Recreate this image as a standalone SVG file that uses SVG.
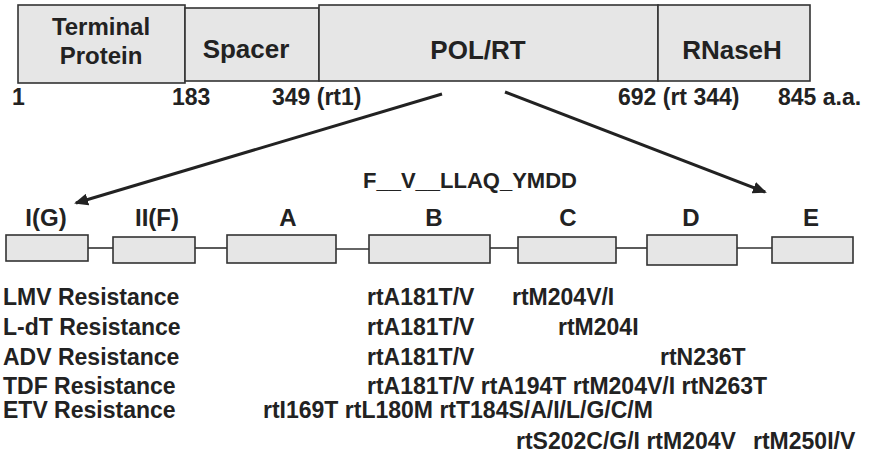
<svg xmlns="http://www.w3.org/2000/svg" width="871" height="454" viewBox="0 0 871 454">
<style>
text{font-family:"Liberation Sans",Arial,Helvetica,sans-serif;font-weight:bold;fill:#222}
.box{fill:#e6e6e6;stroke:#333;stroke-width:1.6}
.big{font-size:26px;text-anchor:middle}
.tp{font-size:24px;text-anchor:middle}
.num{font-size:23px}
.dom{font-size:24px;text-anchor:middle}
.row{font-size:23px}
.link{stroke:#333;stroke-width:1.6;fill:none}
.arrow{stroke:#222;stroke-width:3;fill:none}
</style>
<defs>
<marker id="ah" markerUnits="userSpaceOnUse" markerWidth="14" markerHeight="12" refX="12" refY="6" orient="auto">
<path d="M0,0 L14,6 L0,12 Z" fill="#222"/>
</marker>
</defs>
<rect width="871" height="454" fill="#fff"/>
<g id="terminal-protein"><rect class="box" x="18" y="5" width="167" height="78"/><text class="tp" x="101" y="35">Terminal</text><text class="tp" x="101" y="64">Protein</text></g>
<g id="spacer"><rect class="box" x="185" y="8" width="134" height="73"/><text class="big" x="246" y="58">Spacer</text></g>
<g id="polrt"><rect class="box" x="319" y="5" width="339" height="76"/><text class="big" x="478" y="59">POL/RT</text></g>
<g id="rnaseh"><rect class="box" x="658" y="5" width="152" height="76"/><text class="big" x="732" y="59">RNaseH</text></g>
<g id="positions" class="num">
<text x="12" y="105">1</text>
<text x="172" y="105">183</text>
<text x="272" y="105">349 (rt1)</text>
<text x="618" y="105">692 (rt 344)</text>
<text x="778" y="105">845 a.a.</text>
</g>
<g id="connectors">
<line class="arrow" x1="442" y1="94" x2="76" y2="203" marker-end="url(#ah)"/>
<line class="arrow" x1="505" y1="92" x2="765" y2="192" marker-end="url(#ah)"/>
<line class="link" x1="88" y1="248" x2="113" y2="248"/>
<line class="link" x1="195" y1="248" x2="227" y2="248"/>
<line class="link" x1="336" y1="249" x2="369" y2="249"/>
<line class="link" x1="490" y1="248" x2="518" y2="248"/>
<line class="link" x1="616" y1="248" x2="647" y2="248"/>
<line class="link" x1="737" y1="248" x2="772" y2="248"/>
</g>
<g id="motif"><text x="363" y="188" style="font-size:22px">F__V__LLAQ_YMDD</text></g>
<g id="domain-IG"><rect class="box" x="6" y="235" width="82" height="26"/><text class="dom" x="46" y="226">I(G)</text></g>
<g id="domain-IIF"><rect class="box" x="113" y="237" width="82" height="26"/><text class="dom" x="157" y="226">II(F)</text></g>
<g id="domain-A"><rect class="box" x="227" y="235" width="109" height="28"/><text class="dom" x="288" y="226">A</text></g>
<g id="domain-B"><rect class="box" x="369" y="235" width="121" height="28"/><text class="dom" x="434" y="226">B</text></g>
<g id="domain-C"><rect class="box" x="518" y="237" width="98" height="26"/><text class="dom" x="568" y="226">C</text></g>
<g id="domain-D"><rect class="box" x="647" y="235" width="90" height="30"/><text class="dom" x="691" y="226">D</text></g>
<g id="domain-E"><rect class="box" x="772" y="237" width="81" height="26"/><text class="dom" x="811" y="226">E</text></g>
<g id="resistance" class="row">
<text x="3" y="305">LMV Resistance</text>
<text x="367" y="305">rtA181T/V</text>
<text x="512" y="305">rtM204V/I</text>
<text x="3" y="335">L-dT Resistance</text>
<text x="367" y="335">rtA181T/V</text>
<text x="558" y="335">rtM204I</text>
<text x="3" y="365">ADV Resistance</text>
<text x="367" y="365">rtA181T/V</text>
<text x="660" y="365">rtN236T</text>
<text x="3" y="394">TDF Resistance</text>
<text x="367" y="394">rtA181T/V rtA194T rtM204V/I rtN263T</text>
<text x="3" y="418">ETV Resistance</text>
<text x="263" y="418">rtI169T rtL180M rtT184S/A/I/L/G/C/M</text>
<text x="516" y="449">rtS202C/G/I rtM204V</text>
<text x="753" y="449">rtM250I/V</text>
</g>
</svg>
